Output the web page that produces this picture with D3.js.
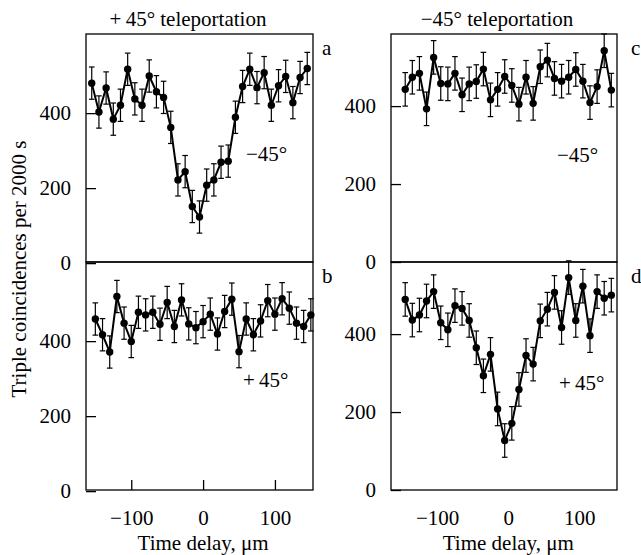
<!DOCTYPE html>
<meta charset="utf-8">
<style>
    body { margin: 0; background: #fff; }
    svg text {
        font-family: "Liberation Serif", "Times New Roman", serif;
        font-size: 21px;
        fill: #000;
    }
</style>
<svg width="641" height="555"></svg>
<script src="https://d3js.org/d3.v7.min.js"></script>
<script>

    // time delays (um) of the points in each panel
    var delaysA = [-155, -145, -135, -125, -115, -105, -95, -85, -75, -65, -55, -45, -35, -25, -15, -5,
        5, 15, 25, 35, 45, 55, 65, 75, 85, 95, 105, 115, 125, 135, 145];
    var delaysB = [-150, -140, -130, -120, -110, -100, -90, -80, -70, -60, -50, -40, -30, -20, -10, 0,
        10, 20, 30, 40, 50, 60, 70, 80, 90, 100, 110, 120, 130, 140, 150];
    var delaysCD = [-145, -135, -125, -115, -105, -95, -85, -75, -65, -55, -45, -35, -25, -15, -5,
        5, 15, 25, 35, 45, 55, 65, 75, 85, 95, 105, 115, 125, 135, 145];

    // triple coincidences per 2000 s
    var countsA = [480, 403, 467, 384, 421, 517, 438, 421, 499, 457, 442, 362, 222, 244, 151, 123,
        208, 222, 269, 272, 389, 471, 517, 468, 508, 421, 473, 498, 428, 495, 519];
    var countsB = [459, 417, 371, 519, 448, 399, 477, 470, 477, 445, 503, 439, 510, 446, 436, 452,
        472, 419, 479, 512, 372, 459, 417, 454, 508, 472, 513, 488, 448, 439, 470];
    var countsC = [443, 474, 484, 393, 525, 458, 457, 484, 429, 457, 463, 495, 416, 443, 476,
        453, 405, 474, 407, 501, 518, 471, 464, 474, 494, 464, 409, 450, 542, 441];
    var countsD = [489, 436, 449, 485, 509, 429, 411, 473, 466, 435, 365, 293, 348, 208, 127,
        171, 258, 345, 323, 434, 464, 507, 417, 545, 435, 523, 396, 509, 492, 500];

    // half length of the error bars
    var errorBar = 43;

    var yTicks = [0, 200, 400];
    var xTicks = [-100, 0, 100];

    var svg = d3.select("svg");

    var cols = [{ left: 86, right: 313, letterX: 322 }, { left: 391, right: 617, letterX: 631 }];
    var rows = [{ top: 34, bottom: 262 }, { top: 262, bottom: 490 }];

    var xLeft = d3.scaleLinear().domain([-163, 153]).range([cols[0].left, cols[0].right]);
    var xRight = d3.scaleLinear().domain([-165, 153]).range([cols[1].left, cols[1].right]);

    var panels = [
        { name: "a", col: 0, row: 0, x: xLeft, yMax: 611, yMin: 3, delays: delaysA, counts: countsA,
          note: "\u221245\u00b0", noteX: 246, noteY: 161, xAxis: null },
        { name: "b", col: 0, row: 1, x: xLeft, yMax: 611, yMin: 3, delays: delaysB, counts: countsB,
          note: "+\u200945\u00b0", noteX: 243, noteY: 387, xAxis: "ticks" },
        { name: "c", col: 1, row: 0, x: xRight, yMax: 585, yMin: 0, delays: delaysCD, counts: countsC,
          note: "\u221245\u00b0", noteX: 557, noteY: 162, xAxis: null },
        { name: "d", col: 1, row: 1, x: xRight, yMax: 585, yMin: 0, delays: delaysCD, counts: countsD,
          note: "+\u200945\u00b0", noteX: 559, noteY: 390, xAxis: "labels" }
    ];

    function fmt(d) {
        return d < 0 ? "\u2212" + Math.abs(d) : "" + d;
    }

    panels.forEach(function (p) {
        var c = cols[p.col], r = rows[p.row];
        var x = p.x;
        var y = d3.scaleLinear().domain([p.yMin, p.yMax]).range([r.bottom, r.top]);
        var g = svg.append("g").attr("class", "panel-" + p.name);

        // frame
        g.append("rect")
            .attr("x", c.left)
            .attr("y", r.top)
            .attr("width", c.right - c.left)
            .attr("height", r.bottom - r.top)
            .attr("fill", "none")
            .attr("stroke", "#000")
            .attr("stroke-width", 1.3);

        // y axis, ticks inside
        var ya = g.append("g")
            .attr("transform", "translate(" + c.left + ",0)")
            .call(d3.axisLeft(y).tickValues(yTicks).tickSize(-10).tickPadding(15).tickFormat(fmt));
        ya.select(".domain").remove();
        ya.selectAll("line").attr("stroke-width", 1.3);

        if (p.xAxis) {
            var xa = g.append("g")
                .attr("transform", "translate(0," + r.bottom + ")")
                .call(d3.axisBottom(x).tickValues(xTicks)
                    .tickSize(p.xAxis == "ticks" ? -10 : 0)
                    .tickPadding(20)
                    .tickFormat(fmt));
            xa.select(".domain").remove();
            xa.selectAll("line").attr("stroke-width", 1.3);
        }

        var pts = p.delays.map(function (d, i) { return { t: d, v: p.counts[i] }; });

        // error bars
        var eb = g.append("g").attr("stroke", "#000").attr("stroke-width", 1.2);
        pts.forEach(function (d) {
            var px = x(d.t), y0 = y(d.v - errorBar), y1 = y(d.v + errorBar);
            eb.append("line").attr("x1", px).attr("x2", px).attr("y1", y0).attr("y2", y1);
            eb.append("line").attr("x1", px - 2.8).attr("x2", px + 2.8).attr("y1", y0).attr("y2", y0);
            eb.append("line").attr("x1", px - 2.8).attr("x2", px + 2.8).attr("y1", y1).attr("y2", y1);
        });

        var line = d3.line()
            .x(function (d) { return x(d.t); })
            .y(function (d) { return y(d.v); });

        g.append("path")
            .datum(pts)
            .attr("d", line)
            .attr("fill", "none")
            .attr("stroke", "#000")
            .attr("stroke-width", 2);

        g.selectAll("circle")
            .data(pts)
            .enter().append("circle")
            .attr("cx", function (d) { return x(d.t); })
            .attr("cy", function (d) { return y(d.v); })
            .attr("r", 3.7)
            .attr("fill", "#000");

        // panel letter and polarizer note
        g.append("text")
            .attr("x", c.letterX)
            .attr("y", r.top + 21)
            .text(p.name);

        g.append("text")
            .attr("x", p.noteX)
            .attr("y", p.noteY)
            .text(p.note);
    });

    // column titles
    svg.append("text")
        .attr("x", 188)
        .attr("y", 26)
        .attr("text-anchor", "middle")
        .text("+\u200945\u00b0 teleportation");

    svg.append("text")
        .attr("x", 497)
        .attr("y", 26)
        .attr("text-anchor", "middle")
        .text("\u221245\u00b0 teleportation");

    // axis titles
    svg.append("text")
        .attr("x", xLeft(0))
        .attr("y", 550)
        .attr("text-anchor", "middle")
        .text("Time delay, \u03bcm");

    svg.append("text")
        .attr("x", xRight(0))
        .attr("y", 550)
        .attr("text-anchor", "middle")
        .text("Time delay, \u03bcm");

    svg.append("text")
        .attr("transform", "translate(26,269) rotate(-90)")
        .attr("text-anchor", "middle")
        .text("Triple coincidences per 2000 s");

</script>
